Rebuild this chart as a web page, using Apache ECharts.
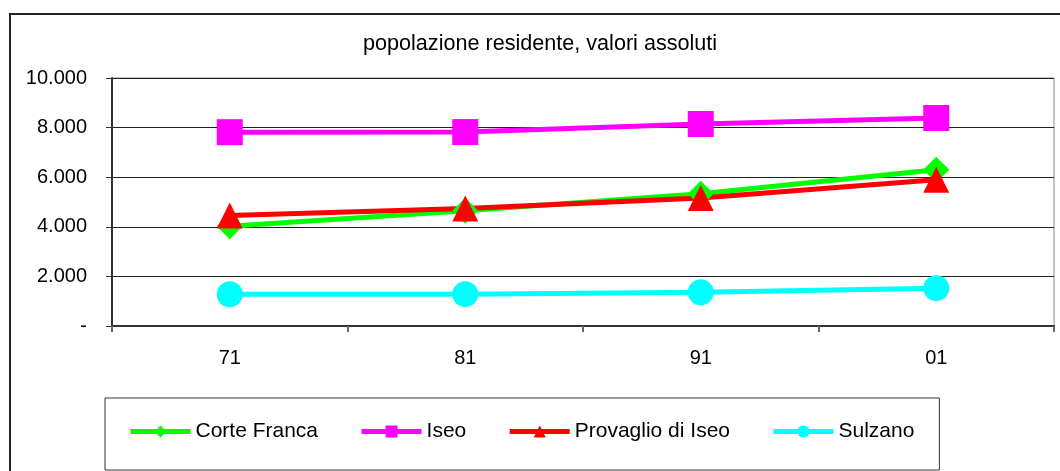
<!DOCTYPE html>
<html>
<head>
<meta charset="utf-8">
<script src="https://cdn.jsdelivr.net/npm/echarts@6/dist/echarts.min.js"></script>
<style>html,body{margin:0;padding:0;background:#fff}#c{width:1060px;height:471px}</style>
</head>
<body>
<div id="c"></div>
<script>
var categories = ['71', '81', '91', '01'];
var corteFranca = [4020, 4650, 5335, 6303];
var iseo = [7815, 7820, 8145, 8387];
var provaglio = [4456, 4738, 5161, 5900];
var sulzano = [1282, 1285, 1363, 1525];
var yTickValues = [0, 2000, 4000, 6000, 8000, 10000];
var yTickLabels = ['-', '2.000', '4.000', '6.000', '8.000', '10.000'];

var FONT = "'Liberation Sans', Arial, sans-serif";
var chart = echarts.init(document.getElementById('c'), null, {renderer: 'canvas'});

function mk(name, data, color, symbol) {
  return {
    name: name, type: 'line', data: data,
    symbol: symbol, symbolSize: symbol === 'triangle' ? [26, 26] : 26,
    lineStyle: {color: color, width: 5},
    itemStyle: {color: color},
    animation: false
  };
}

chart.setOption({
  animation: false,
  backgroundColor: '#fff',
  textStyle: {fontFamily: FONT},
  title: {
    text: 'popolazione residente, valori assoluti',
    left: 363, top: 33, padding: 0,
    textStyle: {fontFamily: FONT, fontSize: 21.6, fontWeight: 'normal', color: '#000'}
  },
  grid: {left: 112, top: 78, right: 6, bottom: 145, show: true, borderColor: '#888', borderWidth: 1},
  xAxis: {
    type: 'category', data: categories, boundaryGap: true,
    axisLine: {lineStyle: {color: '#333', width: 2}},
    axisTick: {show: true, length: 6, inside: false, lineStyle: {color: '#666', width: 2}},
    axisLabel: {margin: 22, fontSize: 20, color: '#000', fontFamily: FONT}
  },
  yAxis: {
    type: 'value', min: 0, max: 10000, interval: 2000,
    axisLine: {show: true, lineStyle: {color: '#333', width: 2}},
    axisTick: {show: true, length: 6, lineStyle: {color: '#333', width: 1}},
    splitLine: {lineStyle: {color: '#222', width: 1}},
    axisLabel: {
      margin: 25, fontSize: 20, color: '#000', fontFamily: FONT,
      formatter: function (v) { var i = yTickValues.indexOf(v); return i >= 0 ? yTickLabels[i] : ''; }
    }
  },
  legend: {
    left: 105, top: 398, orient: 'horizontal',
    padding: [23, 25, 28, 23],
    borderColor: '#333', borderWidth: 1,
    itemWidth: 60, itemHeight: 15, itemGap: 41,
    lineStyle: {width: 5},
    textStyle: {fontSize: 21, color: '#000', fontFamily: FONT},
    data: ['Corte Franca', 'Iseo', 'Provaglio di Iseo', 'Sulzano']
  },
  graphic: [{
    type: 'rect', silent: true, z: -1,
    shape: {x: 10, y: 14, width: 1100, height: 500},
    style: {fill: 'none', stroke: '#222', lineWidth: 2}
  }],
  series: [
    mk('Corte Franca', corteFranca, '#00ff00', 'diamond'),
    mk('Iseo', iseo, '#ff00ff', 'rect'),
    mk('Provaglio di Iseo', provaglio, '#ff0000', 'triangle'),
    mk('Sulzano', sulzano, '#00ffff', 'circle')
  ]
});
</script>
</body>
</html>
